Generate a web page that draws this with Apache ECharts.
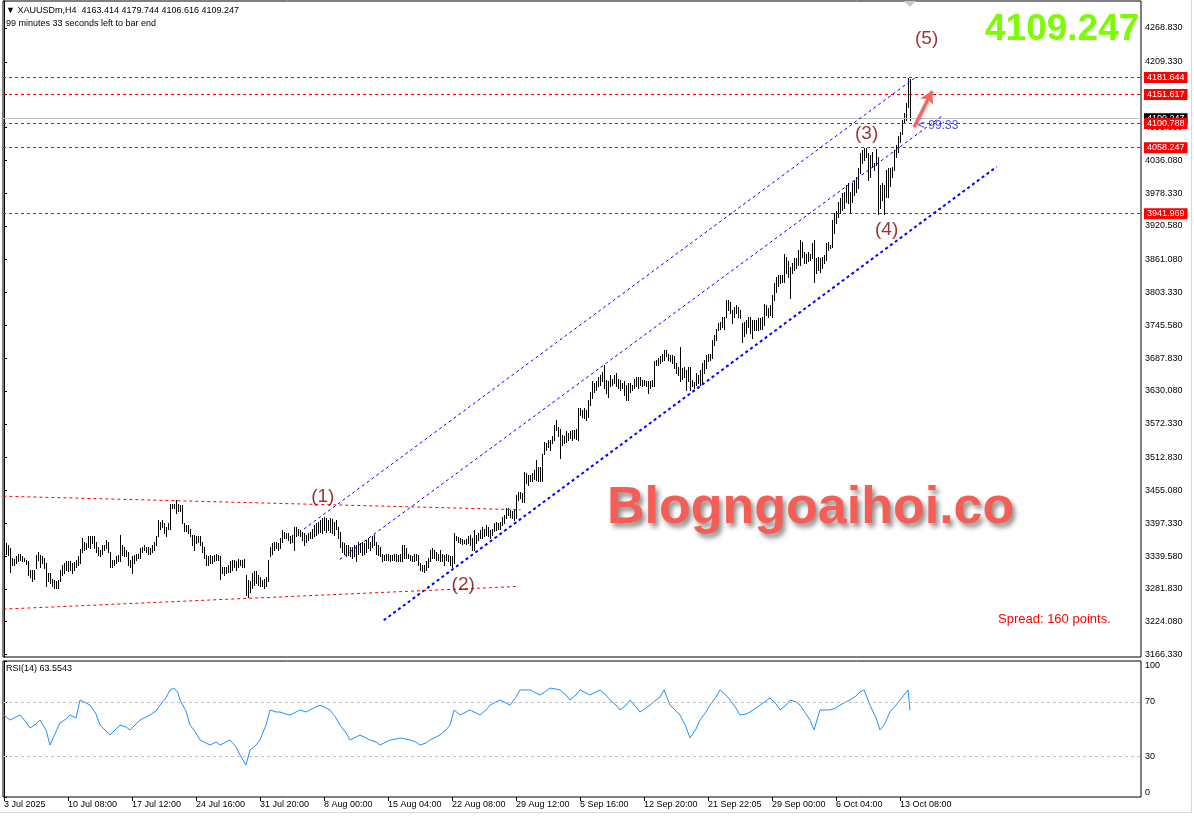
<!DOCTYPE html>
<html><head><meta charset="utf-8">
<script src="https://cdn.jsdelivr.net/npm/echarts@6/dist/echarts.min.js"></script>
<style>html,body{margin:0;padding:0;background:#fff}#c{width:1194px;height:819px}</style>
</head><body><div id="c"></div>
<script>
// ---- data ----
const barHigh = [
3353,3362,3359,3353,3336,3334,3339,3344,3344,3339,
3337,3333,3330,3315,3315,3315,3341,3347,3341,3340,
3336,3327,3309,3309,3300,3297,3295,3297,3315,3324,
3327,3330,3331,3331,3327,3329,3333,3339,3352,3371,
3365,3362,3374,3375,3374,3374,3365,3356,3350,3359,
3359,3368,3365,3347,3333,3333,3339,3341,3377,3359,
3356,3350,3347,3333,3339,3341,3344,3344,3353,3356,
3359,3356,3356,3353,3359,3365,3374,3403,3400,3403,
3397,3391,3397,3432,3432,3432,3438,3432,3429,3429,
3397,3394,3394,3388,3377,3377,3374,3374,3374,3365,
3356,3341,3339,3341,3339,3341,3344,3341,3339,3321,
3321,3321,3324,3330,3333,3333,3330,3334,3333,3333,
3334,3306,3297,3295,3309,3313,3313,3306,3302,3297,
3300,3303,3333,3356,3362,3365,3365,3362,3371,3385,
3382,3381,3380,3374,3377,3391,3391,3388,3385,3382,
3380,3377,3380,3382,3388,3394,3397,3400,3403,3406,
3409,3406,3403,3406,3405,3400,3403,3391,3382,3365,
3362,3359,3359,3356,3356,3359,3359,3365,3362,3365,
3362,3368,3371,3365,3374,3377,3365,3359,3356,3344,
3341,3344,3344,3341,3341,3344,3344,3341,3344,3359,
3359,3353,3344,3341,3339,3344,3343,3341,3327,3324,
3324,3330,3336,3350,3353,3350,3347,3344,3350,3344,
3341,3344,3341,3339,3339,3380,3374,3373,3371,3369,
3368,3369,3374,3377,3371,3385,3377,3380,3385,3391,
3388,3394,3391,3385,3388,3398,3400,3398,3400,3409,
3412,3424,3424,3421,3418,3421,3447,3453,3453,3450,
3488,3485,3482,3482,3485,3491,3509,3497,3497,3520,
3541,3538,3544,3544,3550,3570,3579,3567,3564,3553,
3550,3559,3556,3559,3561,3561,3564,3600,3600,3597,
3600,3597,3614,3629,3647,3644,3647,3655,3658,3664,
3676,3649,3647,3658,3652,3658,3661,3652,3649,3644,
3647,3641,3644,3644,3641,3652,3655,3655,3655,3649,
3649,3647,3647,3647,3649,3682,3685,3688,3691,3696,
3702,3702,3696,3693,3693,3691,3679,3673,3708,3670,
3673,3667,3673,3673,3649,3646,3661,3658,3667,3679,
3685,3693,3696,3696,3720,3729,3740,3749,3752,3761,
3761,3790,3790,3787,3773,3778,3781,3778,3773,3749,
3752,3755,3761,3761,3755,3755,3755,3758,3758,3761,
3784,3781,3776,3781,3799,3820,3831,3834,3834,3834,
3872,3866,3858,3849,3855,3864,3864,3878,3896,3893,
3875,3872,3875,3872,3890,3896,3864,3866,3864,3866,
3869,3890,3893,3887,3931,3943,3946,3963,3969,3978,
3981,3993,3996,3981,3996,4001,4007,4022,4048,4054,
4058.2,4057,4048,4045,4051,4031,4056,4042,3993,3996,
3993,4019,4022,4022,4025,4054,4063,4078,4086,4107,
4119,4136,4181.6,4179.7
];
const barLow = [
3340,3344,3341,3311,3323,3324,3327,3330,3333,3330,
3330,3325,3306,3302,3295,3299,3318,3333,3321,3327,
3318,3286,3295,3292,3286,3283,3283,3283,3295,3306,
3309,3315,3313,3315,3309,3315,3321,3324,3327,3347,
3350,3352,3356,3353,3362,3353,3347,3341,3340,3344,
3350,3353,3347,3321,3321,3324,3327,3330,3330,3341,
3339,3339,3324,3321,3309,3327,3333,3336,3336,3347,
3350,3347,3344,3344,3347,3350,3359,3374,3388,3391,
3380,3374,3388,3388,3424,3424,3415,3418,3418,3397,
3383,3383,3380,3374,3359,3350,3362,3365,3359,3347,
3336,3324,3324,3327,3327,3330,3333,3333,3300,3309,
3307,3309,3311,3312,3315,3321,3315,3321,3323,3321,
3321,3271,3268,3277,3283,3289,3292,3289,3287,3286,
3283,3286,3295,3339,3344,3350,3353,3350,3353,3365,
3371,3371,3368,3362,3365,3350,3374,3377,3374,3368,
3359,3365,3368,3371,3371,3374,3377,3380,3382,3380,
3385,3382,3385,3382,3380,3377,3388,3371,3356,3347,
3344,3339,3341,3339,3336,3339,3330,3344,3347,3341,
3344,3347,3353,3350,3356,3359,3344,3341,3339,3330,
3333,3333,3333,3330,3333,3333,3330,3330,3330,3330,
3336,3336,3336,3333,3330,3330,3333,3324,3315,3313,
3311,3315,3321,3330,3336,3336,3333,3333,3330,3330,
3324,3333,3330,3324,3321,3327,3368,3365,3362,3361,
3362,3361,3362,3359,3350,3350,3362,3368,3371,3371,
3374,3377,3374,3371,3377,3383,3385,3387,3388,3394,
3397,3406,3412,3409,3406,3403,3406,3438,3441,3435,
3435,3468,3465,3471,3471,3476,3473,3471,3471,3471,
3520,3526,3532,3526,3538,3544,3561,3550,3512,3535,
3538,3541,3544,3547,3544,3547,3545,3544,3588,3585,
3582,3579,3585,3605,3617,3629,3632,3638,3641,3647,
3635,3626,3620,3638,3641,3644,3638,3635,3632,3635,
3623,3614,3614,3629,3632,3635,3638,3635,3641,3638,
3641,3638,3626,3635,3638,3638,3676,3676,3679,3682,
3685,3691,3685,3682,3679,3670,3661,3658,3647,3652,
3655,3632,3647,3632,3638,3635,3641,3644,3641,3644,
3661,3670,3682,3685,3688,3711,3720,3737,3740,3743,
3740,3761,3773,3767,3749,3761,3767,3761,3758,3717,
3726,3732,3743,3732,3723,3737,3737,3737,3740,3740,
3746,3764,3761,3764,3761,3790,3805,3814,3820,3822,
3822,3837,3831,3793,3837,3843,3846,3852,3852,3866,
3855,3855,3858,3861,3864,3822,3837,3843,3840,3846,
3855,3861,3878,3881,3884,3908,3925,3937,3943,3949,
3952,3963,3960,3943,3963,3975,3981,3987,4013,4031,
4037,4042,4001,4007,4025,4019,4028,3942,3952,3966,
3942,3972,3972,3990,4007,4019,4042,4051,4069,4083,
4101,4107,4130,4106.6
];
const rsiIdx = [0,3,6,8,11,13,16,18,21,23,25,28,31,33,36,38,40,43,46,48,51,53,56,58,61,63,66,68,71,73,76,78,81,83,85,87,88,91,93,96,98,101,103,106,108,111,113,116,118,121,123,126,128,131,133,136,138,141,143,146,148,151,153,156,158,161,163,166,168,171,173,176,178,181,183,186,188,191,193,196,198,201,203,206,208,211,213,216,218,221,223,225,228,231,233,236,238,241,243,246,248,251,253,256,258,261,263,266,268,271,273,276,278,281,283,286,288,291,293,296,298,301,303,306,308,311,313,316,318,321,323,326,328,330,333,336,338,341,343,346,348,351,353,356,358,361,363,366,368,371,373,376,378,381,383,386,388,391,393,396,398,401,403,405,408,411,413,416,418,421,423,426,428,430,433,436,438,440,443,446,448,450,452,453];
const rsiVal = [60.3,56.6,58.8,60.3,55.1,50.7,53.6,56.6,49.3,38.2,44.9,54.4,57.4,60.3,58.1,71.3,69.9,67.6,61.0,52.9,48.5,45.6,50.0,52.9,51.5,49.3,53.6,56.6,58.8,60.3,63.2,67.6,72.8,78.7,80.1,76.5,71.3,63.2,52.9,47.1,41.9,39.7,38.2,40.4,38.2,40.4,41.9,36.8,30.9,23.5,34.6,38.2,41.9,52.9,64.0,62.5,62.5,61.0,60.3,62.5,64.0,62.5,64.0,66.2,67.6,65.4,64.0,58.1,52.9,47.1,41.9,44.1,45.6,43.4,41.9,40.4,38.2,40.4,41.9,42.6,43.4,42.6,41.9,40.4,38.2,39.7,41.9,44.1,45.6,49.3,52.9,64.0,60.3,62.5,64.0,61.8,60.3,64.0,67.6,69.9,71.3,69.1,67.6,73.5,78.7,78.7,78.7,76.5,75.0,77.9,80.1,79.4,78.7,75.0,71.3,75.0,78.7,76.5,75.0,77.2,78.7,75.0,71.3,67.6,64.0,67.6,71.3,66.2,62.5,65.4,67.6,71.3,73.5,78.7,67.6,63.2,60.3,51.5,43.4,50.0,56.6,62.5,67.6,73.5,78.7,75.0,71.3,65.4,60.3,61.0,62.5,65.4,67.6,70.6,72.8,68.4,64.0,67.6,71.3,69.9,67.6,61.0,56.6,49.3,64.0,64.0,64.0,65.4,67.6,69.9,71.3,74.3,77.2,78.7,67.6,58.1,49.3,52.9,62.5,67.6,71.3,75.0,78.7,63.6];
const xTickBars = [0,32,64,96,128,160,192,224,256,288,320,352,384,416,448];
const xTickLabels = ['3 Jul 2025','10 Jul 08:00','17 Jul 12:00','24 Jul 16:00','31 Jul 20:00','8 Aug 00:00','15 Aug 04:00','22 Aug 08:00','29 Aug 12:00','5 Sep 16:00','12 Sep 20:00','21 Sep 22:05','29 Sep 00:00','6 Oct 04:00','13 Oct 08:00'];
const priceTicks = [3166.33,3224.08,3281.83,3339.58,3397.33,3455.08,3512.83,3572.33,3630.08,3687.83,3745.58,3803.33,3861.08,3920.58,3978.33,4036.08,4093.83,4151.58,4209.33,4268.83];
const rsiTicks = [0,30,70,100];
const rsiLevels = [70,30];
const levelPrices = [4181.644,4151.617,4100.788,4058.247,3941.969];
const bidPrice = 4109.247;
const waveText = ['(1)','(2)','(3)','(4)','(5)'];
const waveIdx = [159.4,229.6,431.3,441.3,461.3];
const wavePrice = [3443.7,3289.0,4083.5,3913.4,4250.7];
// trend lines: [idx1, price1, idx2, price2]
const blueUpper = [150,3387.2,456,4182.6];
const blueMiddle = [167.9,3333.7,469.65,4115.7];
const blueLower = [189.85,3226.5,496.35,4024.7];
const redUpper = [-0.3,3444.9,258.3,3421.1];
const redLower = [-0.3,3246.2,256.6,3286.0];
const arrowLine = [455,4094.6,464,4158.0];
const timerText = '< 99:33';
const timerPos = [457,4096.4];

// ---- chart ----
const FONT = '"Liberation Sans", Arial, sans-serif';
const chart = echarts.init(document.getElementById('c'), null, {renderer:'canvas', width:1194, height:819});

function seg(a, style){
  return [{coord:[a[0],a[1]], lineStyle:style}, {coord:[a[2],a[3]]}];
}
const levelLabel = (txt, bg) => ({show:true, position:'end', distance:3, formatter:txt, backgroundColor:bg, color:'#fff', fontSize:9, fontFamily:FONT, padding:[1,3,0,3], lineHeight:10});

const option = {
  animation:false,
  backgroundColor:'#fff',
  title:[
    {text:'\u25BC XAUUSDm,H4  4163.414 4179.744 4106.616 4109.247', left:6, top:6, padding:0, textStyle:{fontSize:9, fontWeight:'normal', color:'#000', fontFamily:FONT}},
    {text:'99 minutes 33 seconds left to bar end', left:6, top:19, padding:0, textStyle:{fontSize:9, fontWeight:'normal', color:'#000', fontFamily:FONT}},
    {text:'RSI(14) 63.5543', left:6, top:664, padding:0, textStyle:{fontSize:9, fontWeight:'normal', color:'#000', fontFamily:FONT}},
    {text:'4109.247', left:985, top:11, padding:0, textStyle:{fontSize:37, fontWeight:'bold', color:'#7cfc00', fontFamily:FONT}},
    {text:'Spread: 160 points.', left:998, top:613, padding:0, textStyle:{fontSize:13, fontWeight:'normal', color:'#ff0000', fontFamily:FONT}},
    {text:'Blogngoaihoi.co', left:607, top:483, padding:0, textStyle:{fontSize:52, fontWeight:'bold', color:'#f45e56', fontFamily:FONT, textShadowColor:'rgba(0,0,0,0.45)', textShadowBlur:5, textShadowOffsetX:3, textShadowOffsetY:4}}
  ],
  grid:[
    {left:3, right:53, top:1, height:656, show:true, borderColor:'#000', borderWidth:1, backgroundColor:'transparent'},
    {left:3, right:53, top:661, height:136, show:true, borderColor:'#000', borderWidth:1, backgroundColor:'transparent'}
  ],
  xAxis:[
    {type:'value', gridIndex:0, min:-0.5, max:568.5, show:false},
    {type:'value', gridIndex:1, min:-0.5, max:568.5, axisLine:{show:false}, splitLine:{show:false},
     axisTick:{show:true, customValues:xTickBars, length:4, lineStyle:{color:'#000'}},
     axisLabel:{show:true, customValues:xTickBars, formatter:(v)=>xTickLabels[xTickBars.indexOf(Math.round(v))], align:'left', margin:3, fontSize:9, color:'#000', fontFamily:FONT}}
  ],
  yAxis:[
    {type:'value', gridIndex:0, position:'right', min:3161.93, max:4316.35,
     axisLine:{show:true, lineStyle:{color:'#000'}}, splitLine:{show:false},
     axisTick:{show:true, customValues:priceTicks, length:3, lineStyle:{color:'#000'}},
     axisLabel:{show:true, customValues:priceTicks, formatter:(v)=>v.toFixed(3), margin:4, fontSize:9, color:'#000', fontFamily:FONT}},
    {type:'value', gridIndex:1, position:'right', min:0, max:100,
     axisLine:{show:true, lineStyle:{color:'#000'}}, splitLine:{show:false},
     axisTick:{show:true, customValues:rsiTicks, length:3, lineStyle:{color:'#000'}},
     axisLabel:{show:true, customValues:rsiTicks, formatter:(v)=>String(v), margin:4, fontSize:9, color:'#000', fontFamily:FONT, verticalAlignMinLabel:'bottom', verticalAlignMaxLabel:'top'}}
  ],
  series:[
    {type:'custom', name:'bars', xAxisIndex:0, yAxisIndex:0, z:3,
     data: barHigh.map((h,i)=>[i, barLow[i], h]),
     encode:{x:0, y:[1,2]},
     renderItem:function(params, api){
       const i = api.value(0);
       const lo = api.coord([i, api.value(1)]);
       const hi = api.coord([i, api.value(2)]);
       const x = Math.floor(hi[0] + 0.01);
       const y1 = Math.round(hi[1]);
       const y2 = Math.round(lo[1]);
       return {type:'rect', shape:{x:x, y:y1, width:1, height:Math.max(1, y2-y1+1)}, style:{fill:'#000'}};
     }
    },
    {type:'line', name:'levels', xAxisIndex:0, yAxisIndex:0, data:[], z:4,
     markLine:{silent:true, symbol:'none', animation:false,
       lineStyle:{color:'#ff0000', width:1, type:[3,3], opacity:1},
       data: [{yAxis:bidPrice, lineStyle:{color:'#c0c0c0', type:'solid'}, label:levelLabel(bidPrice.toFixed(3), '#000')}]
         .concat(levelPrices.map(p=>({yAxis:p, label:levelLabel(p.toFixed(3), '#ff0000')})))}},
    {type:'line', name:'blueChannel', xAxisIndex:0, yAxisIndex:0, data:[], z:4,
     markLine:{silent:true, symbol:'none', animation:false, label:{show:false},
       lineStyle:{color:'#0000ff', width:1, type:[3,3], opacity:1},
       data:[seg(blueUpper, {color:'#0000ff', width:1, type:[3,3]}),
             seg(blueMiddle, {color:'#0000ff', width:1, type:[3,3]}),
             seg(blueLower, {color:'#0000ff', width:2, type:[3,3]})]}},
    {type:'line', name:'redRange', xAxisIndex:0, yAxisIndex:0, data:[], z:4,
     markLine:{silent:true, symbol:'none', animation:false, label:{show:false},
       lineStyle:{color:'#ff0000', width:1, type:[3,3], opacity:1},
       data:[seg(redUpper, {color:'#ff0000'}), seg(redLower, {color:'#ff0000'})]}},
    {type:'line', name:'arrow', xAxisIndex:0, yAxisIndex:0, data:[], z:4,
     markLine:{silent:true, symbol:['none','arrow'], symbolSize:[11,12], animation:false, label:{show:false},
       lineStyle:{color:'#f26464', width:3, type:'solid', opacity:1, shadowBlur:3, shadowColor:'rgba(0,0,0,0.35)', shadowOffsetX:1, shadowOffsetY:1},
       data:[[{coord:[arrowLine[0],arrowLine[1]]},{coord:[arrowLine[2],arrowLine[3]]}]]}},
    {type:'scatter', name:'waves', xAxisIndex:0, yAxisIndex:0, symbolSize:0, z:5,
     data: waveIdx.map((x,i)=>[x, wavePrice[i], waveText[i]]),
     label:{show:true, position:'inside', formatter:(p)=>p.data[2], color:'#800000', fontSize:19, fontFamily:FONT}},
    {type:'scatter', name:'timer', xAxisIndex:0, yAxisIndex:0, symbolSize:0, z:5,
     data:[[timerPos[0], timerPos[1], timerText]],
     label:{show:true, position:'right', distance:0, formatter:(p)=>p.data[2], color:'#1a1aff', fontSize:12, fontFamily:FONT}},
    {type:'line', name:'RSI', xAxisIndex:1, yAxisIndex:1, showSymbol:false, symbol:'none', z:3,
     data: rsiIdx.map((x,i)=>[x, rsiVal[i]]),
     lineStyle:{color:'#1e90ff', width:1},
     markLine:{silent:true, symbol:'none', label:{show:false}, lineStyle:{color:'#c0c0c0', type:[3,3], width:1, opacity:1},
       data: rsiLevels.map(v=>({yAxis:v}))}}
  ],
  graphic:[
    {type:'polygon', shape:{points:[[904,1],[916,1],[910,7]]}, style:{fill:'#c8c8c8'}, silent:true},
    {type:'line', shape:{x1:1191.5, y1:0, x2:1191.5, y2:812}, style:{stroke:'#d8d8d8', lineWidth:1}, silent:true},
    {type:'line', shape:{x1:0, y1:812.5, x2:1192, y2:812.5}, style:{stroke:'#d8d8d8', lineWidth:1}, silent:true}
  ]
};
chart.setOption(option);
</script>
</body></html>
